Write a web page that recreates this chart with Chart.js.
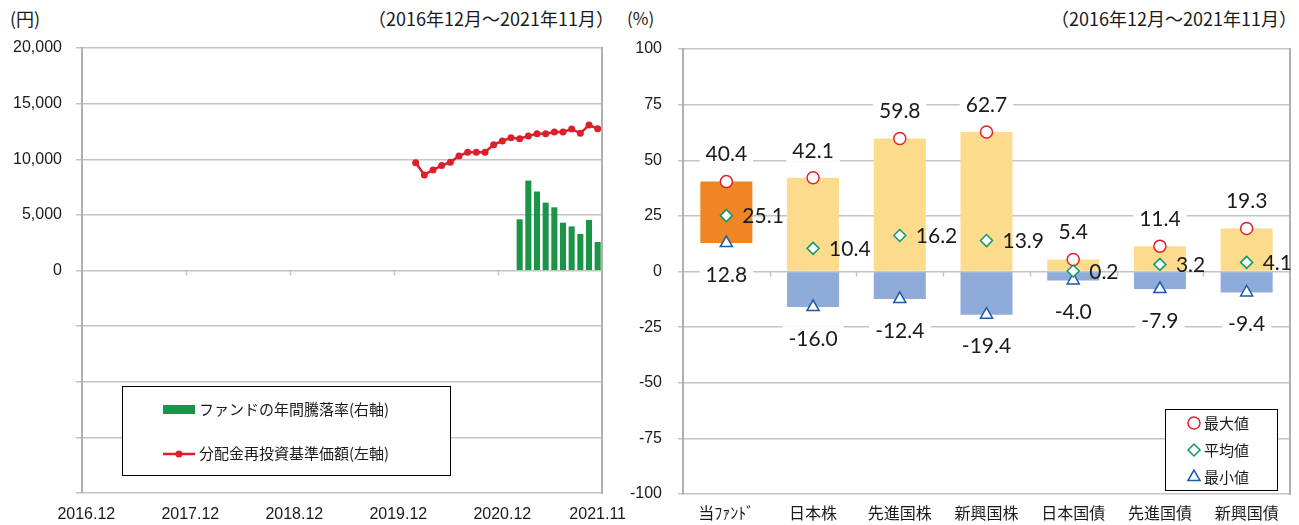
<!DOCTYPE html>
<html>
<head>
<meta charset="utf-8">
<script src="https://cdn.jsdelivr.net/npm/chart.js"></script>
<style>
  body { margin: 0; background: #fff; width: 1299px; height: 525px; position: relative; overflow: hidden;
         font-family: "Noto Sans CJK JP", sans-serif; color: #1a1a1a; }
  canvas { position: absolute; top: 0; }
  #navChart { left: 0; }
  #rangeChart { left: 620px; }
  .note { position: absolute; top: 6px; font-size: 18px; line-height: 24px; white-space: nowrap; }
</style>
</head>
<body>
<div class="note" style="left:10px">(円)</div>
<div class="note" style="right:685px">（2016年12月～2021年11月）</div>
<div class="note" style="left:627px;font-size:17px">(%)</div>
<div class="note" style="right:2px">（2016年12月～2021年11月）</div>
<canvas id="navChart" width="640" height="525"></canvas>
<canvas id="rangeChart" width="679" height="525"></canvas>

<script>
  // left chart: months on the x axis
  const months = [
    '2016.12',
    '2017.01', '2017.02', '2017.03', '2017.04', '2017.05', '2017.06', '2017.07', '2017.08', '2017.09', '2017.10', '2017.11', '2017.12',
    '2018.01', '2018.02', '2018.03', '2018.04', '2018.05', '2018.06', '2018.07', '2018.08', '2018.09', '2018.10', '2018.11', '2018.12',
    '2019.01', '2019.02', '2019.03', '2019.04', '2019.05', '2019.06', '2019.07', '2019.08', '2019.09', '2019.10', '2019.11', '2019.12',
    '2020.01', '2020.02', '2020.03', '2020.04', '2020.05', '2020.06', '2020.07', '2020.08', '2020.09', '2020.10', '2020.11', '2020.12',
    '2021.01', '2021.02', '2021.03', '2021.04', '2021.05', '2021.06', '2021.07', '2021.08', '2021.09', '2021.10', '2021.11'
  ]
  const xTickLabels = ['2016.12', '2017.12', '2018.12', '2019.12', '2020.12', '2021.11']

  // 分配金再投資基準価額 (円)
  const navMonths = [
    '2020.02', '2020.03', '2020.04', '2020.05', '2020.06', '2020.07', '2020.08', '2020.09', '2020.10', '2020.11', '2020.12',
    '2021.01', '2021.02', '2021.03', '2021.04', '2021.05', '2021.06', '2021.07', '2021.08', '2021.09', '2021.10', '2021.11'
  ]
  const navValues = [9690, 8590, 9040, 9430, 9730, 10300, 10630, 10630, 10630, 11310, 11640,
                     11940, 11850, 12090, 12300, 12300, 12450, 12450, 12720, 12330, 13080, 12750]

  // ファンドの年間騰落率 (%)
  const returnMonths = ['2021.02', '2021.03', '2021.04', '2021.05', '2021.06', '2021.07', '2021.08', '2021.09', '2021.10', '2021.11']
  const returnValues = [23.0, 40.4, 35.5, 30.5, 28.4, 21.5, 19.8, 16.4, 22.7, 12.8]

  // right chart
  const assetNames = ['当ﾌｧﾝﾄﾞ', '日本株', '先進国株', '新興国株', '日本国債', '先進国債', '新興国債']
  const maxValues = [40.4, 42.1, 59.8, 62.7, 5.4, 11.4, 19.3]
  const avgValues = [25.1, 10.4, 16.2, 13.9, 0.2, 3.2, 4.1]
  const minValues = [12.8, -16.0, -12.4, -19.4, -4.0, -7.9, -9.4]

  const gridColor = '#c4c4c4'
  const axisColor = '#b0b0b0'
  const textColor = '#1a1a1a'
  const red = '#dc1f2a'
  const green = '#1b9448'
  const cjk = '"Noto Sans CJK JP", sans-serif'

  Chart.defaults.font.family = '"Liberation Sans", Arial, sans-serif'
  Chart.defaults.font.size = 16
  Chart.defaults.color = textColor
  Chart.defaults.animation = false
  Chart.defaults.plugins.legend.display = false
  Chart.defaults.plugins.tooltip.enabled = false

  // small tick marks on the zero line
  const zeroTicks = {
    id: 'zeroTicks',
    beforeDatasetsDraw(chart, args, opts) {
      const ctx = chart.ctx
      const xs = chart.scales.x
      const y0 = chart.scales[opts.axis].getPixelForValue(0)
      ctx.save()
      ctx.strokeStyle = gridColor
      ctx.lineWidth = 1.5
      opts.at.forEach(v => {
        const px = Math.round(xs.getPixelForValue(v)) + 0.5
        ctx.beginPath()
        ctx.moveTo(px, y0)
        ctx.lineTo(px, y0 + 5)
        ctx.stroke()
      })
      ctx.restore()
    }
  }

  function boxLegend(ctx, x, y, w, h) {
    ctx.fillStyle = '#fff'
    ctx.fillRect(x, y, w, h)
    ctx.strokeStyle = '#000'
    ctx.lineWidth = 1
    ctx.strokeRect(x + 0.5, y + 0.5, w, h)
  }

  const navLegend = {
    id: 'navLegend',
    afterDraw(chart) {
      const ctx = chart.ctx
      ctx.save()
      boxLegend(ctx, 122, 386, 328, 89)
      ctx.fillStyle = green
      ctx.fillRect(163, 405, 32, 9)
      ctx.strokeStyle = red
      ctx.lineWidth = 2.5
      ctx.beginPath()
      ctx.moveTo(163, 454)
      ctx.lineTo(195, 454)
      ctx.stroke()
      ctx.fillStyle = red
      ctx.beginPath()
      ctx.arc(179, 454, 3.5, 0, 2 * Math.PI)
      ctx.fill()
      ctx.fillStyle = textColor
      ctx.font = '15px ' + cjk
      ctx.textBaseline = 'middle'
      ctx.fillText('ファンドの年間騰落率(右軸)', 199, 409)
      ctx.fillText('分配金再投資基準価額(左軸)', 199, 453)
      ctx.restore()
    }
  }

  new Chart(document.getElementById('navChart'), {
    type: 'bar',
    data: {
      labels: months,
      datasets: [
        {
          type: 'line',
          label: '分配金再投資基準価額(左軸)',
          data: navMonths.map((m, i) => ({ x: m, y: navValues[i] })),
          yAxisID: 'y',
          borderColor: red,
          borderWidth: 2.5,
          pointRadius: 3.5,
          pointBackgroundColor: red,
          pointBorderWidth: 0,
          tension: 0,
          order: 0
        },
        {
          type: 'bar',
          label: 'ファンドの年間騰落率(右軸)',
          data: returnMonths.map((m, i) => ({ x: m, y: returnValues[i] })),
          yAxisID: 'y1',
          backgroundColor: green,
          categoryPercentage: 0.7,
          barPercentage: 1,
          order: 1
        }
      ]
    },
    options: {
      responsive: false,
      layout: { padding: { left: 0, right: 38, top: 48, bottom: 0 } },
      scales: {
        x: {
          offset: true,
          grid: { display: false },
          border: { display: false },
          ticks: {
            autoSkip: false,
            maxRotation: 0,
            padding: 4,
            callback(v) {
              const l = this.getLabelForValue(v)
              return xTickLabels.includes(l) ? l : ''
            }
          },
          afterFit(s) { s.height = 32 }
        },
        y: {
          position: 'left',
          min: -20000,
          max: 20000,
          ticks: {
            stepSize: 5000,
            padding: 14,
            callback: v => v >= 0 ? v.toLocaleString('en-US') : ''
          },
          grid: { color: gridColor, lineWidth: 1.5, tickLength: 6 },
          border: { display: true, color: axisColor, width: 2 },
          afterFit(s) { s.width = 82 }
        },
        y1: {
          position: 'right',
          min: -100,
          max: 100,
          ticks: { display: false },
          grid: { drawOnChartArea: false, drawTicks: false },
          border: { display: true, color: axisColor, width: 2 },
          afterFit(s) { s.width = 0 }
        }
      },
      plugins: {
        zeroTicks: { axis: 'y', at: [11.5, 23.5, 35.5, 47.5] }
      }
    },
    plugins: [zeroTicks, navLegend]
  })

  // ---- right chart ----
  const markerStyles = [
    { label: '最大値', color: '#e3212b', style: 'circle', r: 6 },
    { label: '平均値', color: '#0e9a6b', style: 'rectRot', r: 6 },
    { label: '最小値', color: '#1a5aa8', style: 'triangle', r: 7 }
  ]

  function drawMarker(ctx, m, x, y) {
    ctx.beginPath()
    if (m.style === 'circle') {
      ctx.arc(x, y, m.r, 0, 2 * Math.PI)
    } else if (m.style === 'rectRot') {
      ctx.moveTo(x - m.r, y)
      ctx.lineTo(x, y - m.r)
      ctx.lineTo(x + m.r, y)
      ctx.lineTo(x, y + m.r)
      ctx.closePath()
    } else {
      ctx.moveTo(x, y - m.r)
      ctx.lineTo(x + m.r * 0.866, y + m.r * 0.5)
      ctx.lineTo(x - m.r * 0.866, y + m.r * 0.5)
      ctx.closePath()
    }
    ctx.fillStyle = '#fff'
    ctx.fill()
    ctx.strokeStyle = m.color
    ctx.lineWidth = 1.5
    ctx.stroke()
  }

  const valueLabels = {
    id: 'valueLabels',
    afterDatasetsDraw(chart) {
      const ctx = chart.ctx
      ctx.save()
      ctx.font = '21px Lato, sans-serif'
      ctx.textBaseline = 'middle'
      ;['above', 'right', 'below'].forEach((pos, di) => {
        const meta = chart.getDatasetMeta(di)
        const vals = chart.data.datasets[di].data
        meta.data.forEach((pt, i) => {
          const text = vals[i].toFixed(1)
          const w = ctx.measureText(text).width
          let x = pt.x
          let y = pt.y
          if (pos === 'right') {
            ctx.textAlign = 'left'
            ctx.fillStyle = textColor
            ctx.fillText(text, x + 16, y + 1)
            return
          }
          y += pos === 'above' ? -28 : 31
          ctx.fillStyle = '#fff'
          ctx.fillRect(x - w / 2 - 6, y - 12, w + 12, 24)
          ctx.textAlign = 'center'
          ctx.fillStyle = textColor
          ctx.fillText(text, x, y + 1)
        })
      })
      ctx.restore()
    }
  }

  const rangeLegend = {
    id: 'rangeLegend',
    afterDraw(chart) {
      const ctx = chart.ctx
      ctx.save()
      boxLegend(ctx, 545, 409, 112, 81)
      ctx.font = '15px ' + cjk
      ctx.textBaseline = 'middle'
      markerStyles.forEach((m, i) => {
        const y = 423 + i * 27
        drawMarker(ctx, m, 574, y)
        ctx.fillStyle = textColor
        ctx.fillText(m.label, 584, y)
      })
      ctx.restore()
    }
  }

  const upperBars = assetNames.map((n, i) => [Math.max(minValues[i], 0), maxValues[i]])
  const lowerBars = assetNames.map((n, i) => minValues[i] < 0 ? [minValues[i], Math.min(maxValues[i], 0)] : null)

  new Chart(document.getElementById('rangeChart'), {
    type: 'bar',
    data: {
      labels: assetNames,
      datasets: [
        ...[maxValues, avgValues, minValues].map((vals, k) => ({
          type: 'line',
          label: markerStyles[k].label,
          data: vals,
          showLine: false,
          pointStyle: markerStyles[k].style,
          pointRadius: markerStyles[k].r,
          pointBorderWidth: 1.5,
          pointBorderColor: markerStyles[k].color,
          pointBackgroundColor: '#fff',
          order: 0
        })),
        {
          type: 'bar',
          data: upperBars,
          backgroundColor: assetNames.map((n, i) => i === 0 ? '#ee8526' : '#fddb8c'),
          categoryPercentage: 0.6,
          barPercentage: 1,
          grouped: false,
          order: 5
        },
        {
          type: 'bar',
          data: lowerBars,
          backgroundColor: '#8eabd9',
          categoryPercentage: 0.6,
          barPercentage: 1,
          grouped: false,
          order: 5
        }
      ]
    },
    options: {
      responsive: false,
      layout: { padding: { left: 0, right: 9, top: 49, bottom: 0 } },
      scales: {
        x: {
          offset: true,
          grid: { display: false },
          border: { display: false },
          ticks: { maxRotation: 0, padding: 1, font: { family: cjk, size: 16, lineHeight: 1.2 } },
          afterFit(s) { s.height = 31 }
        },
        y: {
          min: -100,
          max: 100,
          ticks: { stepSize: 25, padding: 16 },
          grid: { color: gridColor, lineWidth: 1.5, tickLength: 5 },
          border: { display: true, color: axisColor, width: 2 },
          afterFit(s) { s.width = 63 }
        },
        y2: {
          position: 'right',
          display: true,
          min: -100,
          max: 100,
          ticks: { display: false },
          grid: { drawOnChartArea: false, drawTicks: false },
          border: { display: true, color: axisColor, width: 2 },
          afterFit(s) { s.width = 0 }
        }
      },
      plugins: {
        zeroTicks: { axis: 'y', at: assetNames.slice(1).map((n, i) => i + 0.5) }
      }
    },
    plugins: [zeroTicks, valueLabels, rangeLegend]
  })
</script>
</body>
</html>
